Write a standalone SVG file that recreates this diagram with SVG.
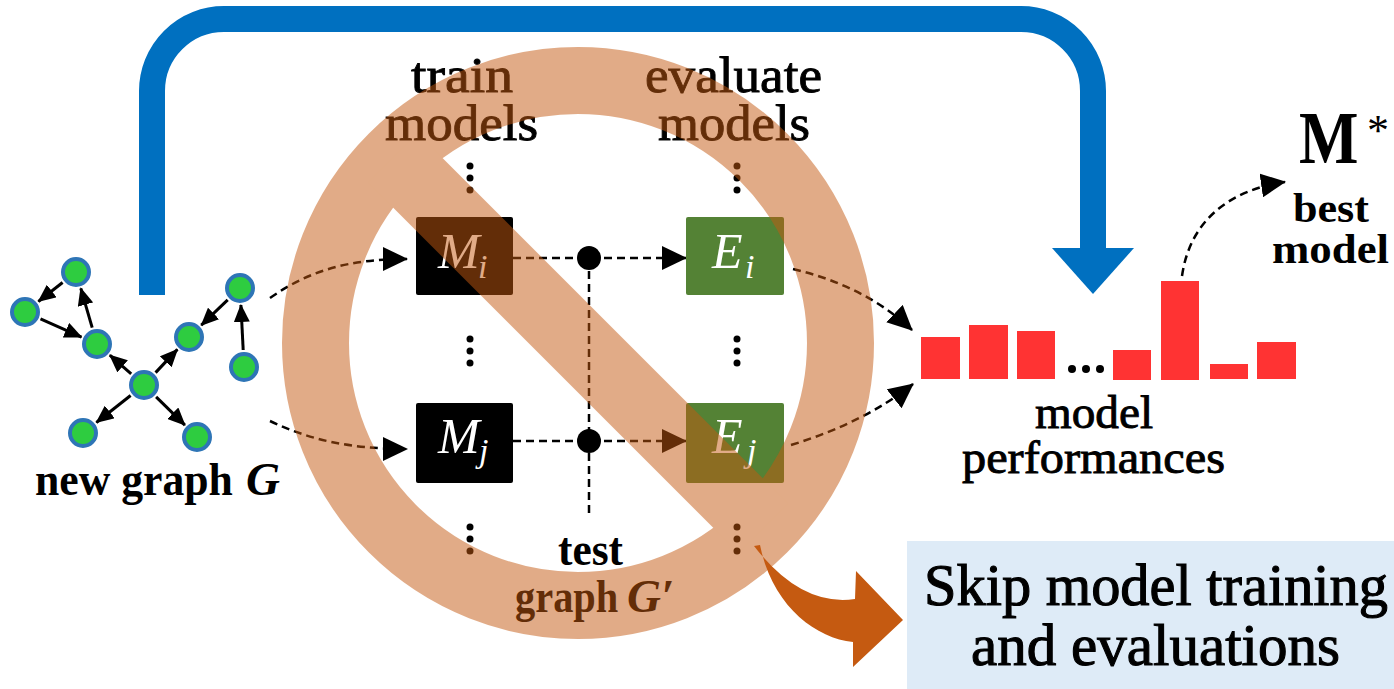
<svg xmlns="http://www.w3.org/2000/svg" width="1394" height="689" viewBox="0 0 1394 689">
  <style>
    .serif { font-family: "Liberation Serif", "Times New Roman", serif; fill: #000; }
    .heavy { stroke: #000; stroke-width: 0.9; }
    .bold { font-weight: bold; }
    .ital { font-style: italic; }
    .math { font-family: "Liberation Serif", "Times New Roman", serif; font-style: italic; fill: #fff; }
    .node { fill: #2ECC40; stroke: #2E75B6; stroke-width: 4; }
    .edge { fill: none; stroke: #000; stroke-width: 3; marker-end: url(#headSmall); }
    .dash { fill: none; stroke: #000; stroke-width: 2.5; stroke-dasharray: 8 5; }
    .dasharrow { marker-end: url(#headDash); }
    .vdot { fill: #000; }
    .bar { fill: #FF3333; }
  </style>
  <defs>
    <marker id="headSmall" markerUnits="userSpaceOnUse" markerWidth="18" markerHeight="16" refX="17" refY="8" orient="auto">
      <path d="M0,0 L18,8 L0,16 z" fill="#000"/>
    </marker>
    <marker id="headDash" markerUnits="userSpaceOnUse" markerWidth="25" markerHeight="24" refX="24" refY="12" orient="auto">
      <path d="M0,0 L25,12 L0,24 z" fill="#000"/>
    </marker>
  </defs>

  <rect width="1394" height="689" fill="#fff"/>

  <!-- blue bypass arrow over the top -->
  <g id="bypass-arrow">
    <path d="M152,295 V91 A72 72 0 0 1 224,19 H1021 A72 72 0 0 1 1093,91 V250" fill="none" stroke="#0070C0" stroke-width="26"/>
    <polygon points="1052,248 1134,248 1093,294" fill="#0070C0"/>
  </g>

  <!-- input graph -->
  <g id="graph-edges">
    <line class="edge" x1="62.6" y1="282.5" x2="38.4" y2="301.5"/>
    <line class="edge" x1="40.5" y1="318.9" x2="81.5" y2="337.1"/>
    <line class="edge" x1="92.2" y1="327.7" x2="80.8" y2="288.3"/>
    <line class="edge" x1="131.2" y1="373.8" x2="109.8" y2="355.2"/>
    <line class="edge" x1="155.6" y1="372.6" x2="177.4" y2="349.4"/>
    <line class="edge" x1="130.6" y1="395.5" x2="96.4" y2="422.5"/>
    <line class="edge" x1="156.1" y1="396.9" x2="184.9" y2="425.1"/>
    <line class="edge" x1="227.7" y1="299.8" x2="201.3" y2="325.2"/>
    <line class="edge" x1="243.2" y1="350" x2="240.9" y2="305"/>
  </g>
  <g id="graph-nodes">
    <circle class="node" cx="76" cy="272" r="13"/>
    <circle class="node" cx="25" cy="312" r="13"/>
    <circle class="node" cx="97" cy="344" r="13"/>
    <circle class="node" cx="144" cy="385" r="13"/>
    <circle class="node" cx="189" cy="337" r="13"/>
    <circle class="node" cx="240" cy="288" r="13"/>
    <circle class="node" cx="244" cy="367" r="13"/>
    <circle class="node" cx="83" cy="433" r="13"/>
    <circle class="node" cx="197" cy="437" r="13"/>
  </g>
  <g id="label-new-graph">
    <text class="serif bold" font-size="47" transform="translate(35,495) scale(0.93,1)">new graph</text>
    <text class="serif bold ital" x="246" y="495" font-size="47">G</text>
  </g>

  <!-- column headings -->
  <g id="label-train">
    <text class="serif heavy" x="411" y="92" font-size="50" textLength="102" lengthAdjust="spacingAndGlyphs">train</text>
    <text class="serif heavy" x="385" y="140" font-size="50" textLength="153" lengthAdjust="spacingAndGlyphs">models</text>
  </g>
  <g id="label-evaluate">
    <text class="serif heavy" x="645" y="92" font-size="50" textLength="177" lengthAdjust="spacingAndGlyphs">evaluate</text>
    <text class="serif heavy" x="658" y="140" font-size="50" textLength="152" lengthAdjust="spacingAndGlyphs">models</text>
  </g>

  <!-- vertical ellipses -->
  <g id="ellipses">
    <circle class="vdot" cx="470" cy="166" r="3.5"/><circle class="vdot" cx="470" cy="178" r="3.5"/><circle class="vdot" cx="470" cy="190" r="3.5"/>
    <circle class="vdot" cx="737" cy="166" r="3.5"/><circle class="vdot" cx="737" cy="178" r="3.5"/><circle class="vdot" cx="737" cy="190" r="3.5"/>
    <circle class="vdot" cx="470" cy="339" r="3.5"/><circle class="vdot" cx="470" cy="351" r="3.5"/><circle class="vdot" cx="470" cy="363" r="3.5"/>
    <circle class="vdot" cx="737" cy="339" r="3.5"/><circle class="vdot" cx="737" cy="351" r="3.5"/><circle class="vdot" cx="737" cy="363" r="3.5"/>
    <circle class="vdot" cx="470" cy="527" r="3.5"/><circle class="vdot" cx="470" cy="539" r="3.5"/><circle class="vdot" cx="470" cy="551" r="3.5"/>
    <circle class="vdot" cx="737" cy="527" r="3.5"/><circle class="vdot" cx="737" cy="539" r="3.5"/><circle class="vdot" cx="737" cy="551" r="3.5"/>
  </g>

  <!-- dashed connectors -->
  <g id="connectors">
    <path class="dash dasharrow" d="M270,298 C310,270 350,259 407,259"/>
    <path class="dash dasharrow" d="M270,421 C310,440 350,449 407,449"/>
    <path class="dash dasharrow" d="M513,258 H686"/>
    <path class="dash dasharrow" d="M513,441 H686"/>
    <path class="dash" d="M589,258 V515"/>
    <path class="dash dasharrow" d="M793,269 C840,280 880,300 912,330"/>
    <path class="dash dasharrow" d="M791,445 C840,430 880,410 913,384"/>
    <path class="dash dasharrow" d="M1182,276 C1190,220 1230,190 1285,182"/>
    <circle cx="589" cy="258" r="12" fill="#000"/>
    <circle cx="589" cy="441" r="12" fill="#000"/>
  </g>

  <!-- model and evaluation boxes -->
  <g id="model-i">
    <rect x="416" y="217" width="97" height="78" rx="2" fill="#000"/>
    <text class="math" x="438" y="268" font-size="50">M</text>
    <text class="math" x="478" y="278" font-size="34">i</text>
  </g>
  <g id="eval-i">
    <rect x="686" y="217" width="98" height="78" rx="2" fill="#548235"/>
    <text class="math" x="712" y="268" font-size="50">E</text>
    <text class="math" x="745" y="278" font-size="34">i</text>
  </g>
  <g id="model-j">
    <rect x="416" y="403" width="97" height="80" rx="2" fill="#000"/>
    <text class="math" x="438" y="453" font-size="50">M</text>
    <text class="math" x="479" y="462" font-size="34">j</text>
  </g>
  <g id="eval-j">
    <rect x="686" y="403" width="98" height="80" rx="2" fill="#548235"/>
    <text class="math" x="712" y="453" font-size="50">E</text>
    <text class="math" x="747" y="462" font-size="34">j</text>
  </g>

  <!-- test graph label -->
  <g id="label-test-graph">
    <text class="serif bold" x="558" y="565" font-size="47" textLength="65" lengthAdjust="spacingAndGlyphs">test</text>
    <text class="serif bold" font-size="47" transform="translate(515,612) scale(0.86,1)">graph</text>
    <text class="serif bold ital" x="627" y="612" font-size="47">G′</text>
  </g>

  <!-- performance bar chart -->
  <g id="performances">
    <rect class="bar" x="921" y="337" width="39" height="42"/>
    <rect class="bar" x="969" y="325" width="39" height="54"/>
    <rect class="bar" x="1017" y="331" width="38" height="48"/>
    <circle cx="1072" cy="369" r="4" fill="#000"/>
    <circle cx="1086" cy="369" r="4" fill="#000"/>
    <circle cx="1100" cy="369" r="4" fill="#000"/>
    <rect class="bar" x="1113" y="350" width="38" height="30"/>
    <rect class="bar" x="1161" y="281" width="38" height="99"/>
    <rect class="bar" x="1210" y="364" width="38" height="15"/>
    <rect class="bar" x="1257" y="342" width="39" height="37"/>
    <text class="serif heavy" x="1035" y="428" font-size="46" textLength="118" lengthAdjust="spacingAndGlyphs">model</text>
    <text class="serif heavy" x="962" y="473" font-size="46" textLength="263" lengthAdjust="spacingAndGlyphs">performances</text>
  </g>

  <!-- selected model -->
  <g id="best-model">
    <text class="serif bold" font-size="75" transform="translate(1299,163) scale(0.84,1)">M</text>
    <text class="serif" x="1367" y="145" font-size="44">*</text>
    <text class="serif bold" x="1293" y="222" font-size="42" textLength="76" lengthAdjust="spacingAndGlyphs">best</text>
    <text class="serif bold" x="1272" y="263" font-size="42" textLength="117" lengthAdjust="spacingAndGlyphs">model</text>
  </g>

  <!-- translucent "no" sign over the train/evaluate loop -->
  <g id="prohibition" opacity="0.5">
    <circle cx="578" cy="343" r="262.5" fill="none" stroke="#C55A11" stroke-width="67"/>
    <rect x="316" y="308" width="524" height="70" fill="#C55A11" transform="rotate(45 578 343)"/>
  </g>

  <!-- curved arrow to the outcome -->
  <g id="skip-arrow">
    <path d="M754,546 Q801,607 855,599 L856,571 L903,620 L853,667 L853,642 C815,638 772,605 760,545 Z" fill="#C55A11"/>
  </g>

  <g id="skip-box">
    <rect x="907" y="541" width="487" height="148" fill="#DEEBF7"/>
    <text class="serif" x="924" y="605" font-size="59" stroke="#000" stroke-width="1.1" textLength="464" lengthAdjust="spacingAndGlyphs">Skip model training</text>
    <text class="serif" x="971" y="665" font-size="59" stroke="#000" stroke-width="1.1" textLength="369" lengthAdjust="spacingAndGlyphs">and evaluations</text>
  </g>
</svg>
